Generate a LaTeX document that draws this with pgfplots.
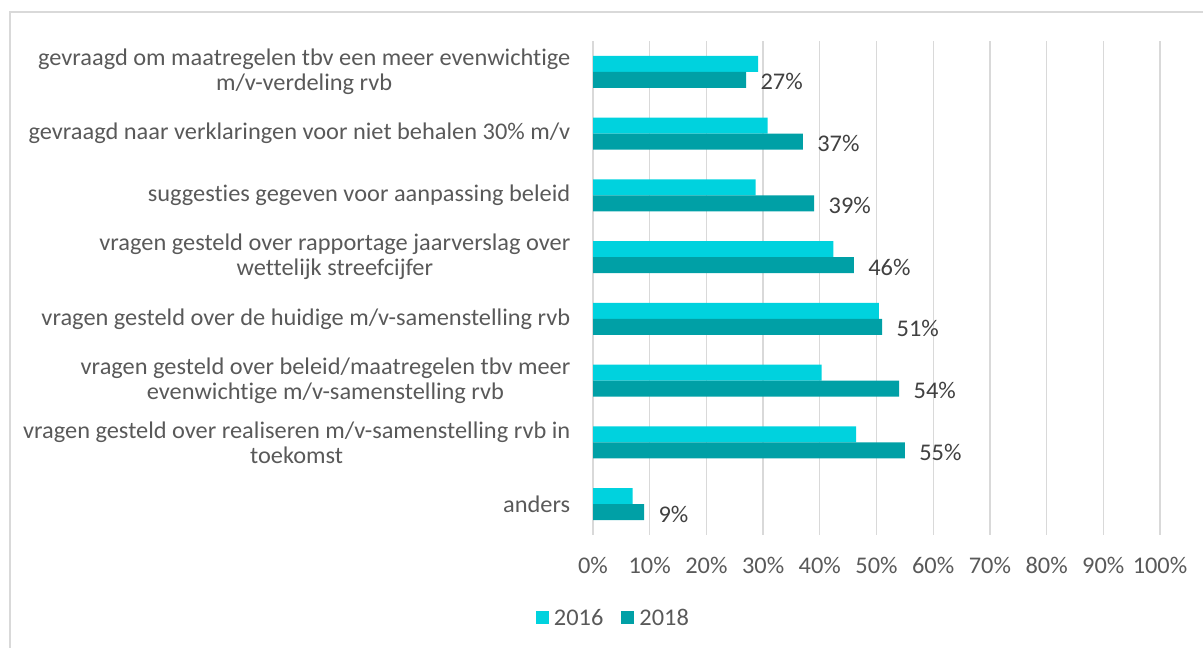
\documentclass[border=0pt]{standalone}
\usepackage{fontspec}
\setmainfont{Carlito}[Ligatures=NoCommon, FakeStretch=1.02]
\usepackage{pgfplots}
\pgfplotsset{compat=1.18}

\definecolor{c2016}{HTML}{00D2DE}
\definecolor{c2018}{HTML}{00A0A6}
\definecolor{gridc}{HTML}{D9D9D9}
\definecolor{txt}{HTML}{595959}
\definecolor{lbl}{HTML}{404040}

\begin{document}
\begin{tikzpicture}[x=1bp,y=1bp]
\useasboundingbox (0,0) rectangle (1203,648);
% outer frame of the chart area (runs off the page right and bottom)
\draw[gridc, line width=1.3bp] (10,636) rectangle (1240,-40);
\begin{axis}[
    at={(593bp,113bp)}, anchor=south west,
    scale only axis, width=567bp, height=494bp,
    xbar, bar width=16bp,
    xmin=0, xmax=100, ymin=-0.5, ymax=7.5,
    axis line style={draw=none},
    major tick style={draw=none},
    xmajorgrids, major grid style={gridc, line width=1.3bp},
    xtick={0,10,...,100},
    xticklabels={0\%,10\%,20\%,30\%,40\%,50\%,60\%,70\%,80\%,90\%,100\%},
    ytick={0,...,7},
    yticklabels={
        anders,
        {vragen gesteld over realiseren m/v-samenstelling rvb in\\toekomst},
        {vragen gesteld over beleid/maatregelen tbv meer\\evenwichtige m/v-samenstelling rvb},
        vragen gesteld over de huidige m/v-samenstelling rvb,
        {vragen gesteld over rapportage jaarverslag over\\wettelijk streefcijfer},
        suggesties gegeven voor aanpassing beleid,
        gevraagd naar verklaringen voor niet behalen 30\% m/v,
        {gevraagd om maatregelen tbv een meer evenwichtige\\m/v-verdeling rvb}
    },
    tick label style={font=\fontsize{24}{25}\selectfont, text=txt},
    yticklabel style={align=center, xshift=-15bp},
    xticklabel style={yshift=-19bp},
    legend columns=2,
    legend style={at={(0.036,-0.168)}, anchor=center, draw=none, fill=none,
        font=\fontsize{24}{29}\selectfont, text=txt,
        /tikz/every odd column/.append style={column sep=3bp},
        /tikz/every even column/.append style={column sep=16bp}},
    legend image code/.code={\fill[#1] (0bp,-6.5bp) rectangle (13bp,6.5bp);},
]
\addplot[fill=c2016, draw=none, bar shift=8bp] coordinates {
    (7.0,0) (46.4,1) (40.3,2) (50.4,3) (42.4,4) (28.7,5) (30.8,6) (29.1,7)
};
\addplot[fill=c2018, draw=none, bar shift=-8bp,
    point meta=explicit symbolic,
    nodes near coords={\pgfplotspointmeta\%},
    every node near coord/.append style={font=\fontsize{24}{29}\selectfont,
        text=lbl, anchor=west, xshift=11bp, yshift=-2bp}] coordinates {
    (9,0) [9] (55,1) [55] (54,2) [54] (51,3) [51] (46,4) [46] (39,5) [39] (37,6) [37] (27,7) [27]
};
\legend{2016,2018}
\end{axis}
\end{tikzpicture}
\end{document}
